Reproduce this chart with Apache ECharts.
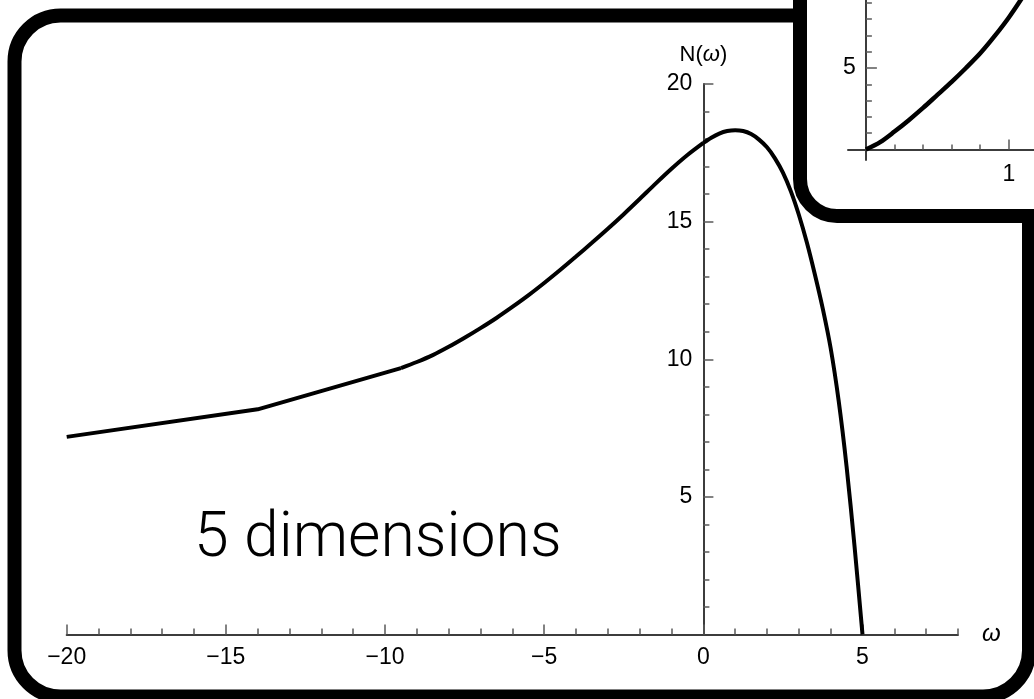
<!DOCTYPE html>
<html>
<head>
<meta charset="utf-8">
<script src="https://cdn.jsdelivr.net/npm/echarts@6/dist/echarts.min.js"></script>
<style>
  html, body { margin: 0; padding: 0; background: #fff; }
  #chart { width: 1034px; height: 699px; }
</style>
</head>
<body>
<div id="chart"></div>
<script>
// main curve: coarse samples on the left
const coarseW = [-20, -14, -9.5];
const coarseN = [7.18, 8.18, 9.68];
// main curve: fine samples, rising side
const riseW = [-9.5, -9, -8.5, -8, -7.5, -7, -6.5, -6, -5.5, -5, -4.5, -4, -3.5, -3, -2.5, -2, -1.5, -1, -0.5, 0];
const riseN = [9.68, 9.9, 10.15, 10.45, 10.78, 11.13, 11.5, 11.9, 12.32, 12.77, 13.24, 13.73, 14.23, 14.74, 15.27, 15.82, 16.38, 16.92, 17.42, 17.86];
// main curve: fine samples, peak and drop
const dropW = [0, 0.25, 0.5, 0.75, 1, 1.25, 1.5, 1.75, 2, 2.25, 2.5, 2.75, 3, 3.25, 3.5, 3.75, 4, 4.25, 4.5, 4.75, 5];
const dropN = [17.86, 18.05, 18.2, 18.29, 18.32, 18.29, 18.18, 17.98, 17.7, 17.3, 16.78, 16.1, 15.25, 14.25, 13.1, 11.85, 10.4, 8.5, 6.1, 3.2, 0];
// inset curve (zoom near the origin)
const insetW = [0, 0.1, 0.2, 0.3, 0.4, 0.5, 0.6, 0.7, 0.8, 0.9, 1.0, 1.1, 1.2];
const insetN = [0, 0.45, 1.1, 1.8, 2.55, 3.35, 4.15, 5.0, 5.9, 6.95, 8.1, 9.4, 10.8];

// tick labels
const mainXLabels = [-20, -15, -10, -5, 0, 5];
const mainYLabels = [5, 10, 15, 20];
const insetXLabels = [1];
const insetYLabels = [5];

const pairs = (xs, ys) => xs.map((x, i) => [x, ys[i]]);
const fmt = v => (v < 0 ? '\u2212' + (-v) : String(v));
const range = (a, b, s) => { const r = []; for (let v = a; v <= b + 1e-9; v += s) r.push(+v.toFixed(4)); return r; };

const axisColor = '#3c3c3c';
const tickColor = '#5a5a5a';
const labelFont = { fontSize: 23, color: '#000', fontFamily: 'Liberation Sans' };

function axis(opts) {
  return Object.assign({
    type: 'value',
    splitLine: { show: false },
    axisLine: { onZero: false, lineStyle: { color: axisColor, width: 2 } },
  }, opts);
}

const curve = (xi, yi, data, extra) => Object.assign({
  type: 'line', xAxisIndex: xi, yAxisIndex: yi, data: data,
  showSymbol: false, lineStyle: { color: '#000', width: 4 }, z: 3
}, extra || {});

const chart = echarts.init(document.getElementById('chart'));

chart.setOption({
  animation: false,
  grid: [
    { left: 66.7, right: 76, top: 84, bottom: 64.5, outerBoundsMode: 'none' },
    { left: 848, right: 0, top: 0, height: 160.1, outerBoundsMode: 'none' }
  ],
  graphic: [
    {
      type: 'rect', z: 1,
      shape: { x: 14.5, y: 15.5, width: 1014.5, height: 681, r: 46 },
      style: { fill: 'none', stroke: '#000', lineWidth: 14 }
    },
    {
      type: 'rect', z: 5,
      shape: { x: 800, y: -200, width: 400, height: 416, r: 37 },
      style: { fill: '#fff', stroke: '#000', lineWidth: 14 }
    },
    {
      type: 'text', z: 6, x: 194, y: 540,
      style: {
        text: '5 dimensions', fill: '#000', fontSize: 62.5, fontWeight: 300,
        fontFamily: 'Roboto', verticalAlign: 'middle', align: 'left'
      }
    }
  ],
  xAxis: [
    axis({
      gridIndex: 0, min: -20, max: 8, position: 'bottom',
      axisTick: { inside: true, length: 6, customValues: range(-20, 8, 1), lineStyle: { color: tickColor, width: 1.5 } },
      axisLabel: Object.assign({ margin: 12, customValues: mainXLabels, formatter: fmt }, labelFont),
      name: '{i|ω}', nameLocation: 'end', nameGap: 24,
      nameTextStyle: { rich: { i: { fontStyle: 'italic', fontSize: 24, fontFamily: 'Liberation Sans', color: '#000' } } }
    }),
    axis({
      gridIndex: 0, min: -20, max: 8, position: 'bottom',
      axisLine: { show: false, onZero: false },
      axisTick: { inside: true, length: 10, customValues: mainXLabels, lineStyle: { color: tickColor, width: 1.5 } },
      axisLabel: { show: false }
    }),
    axis({
      gridIndex: 1, min: -0.125, max: 1.176, position: 'bottom', offset: -10.6, z: 10,
      axisTick: { inside: true, length: 5, customValues: [0.2, 0.4, 0.6, 0.8], lineStyle: { color: tickColor, width: 1.5 } },
      axisLabel: Object.assign({ margin: 14, customValues: insetXLabels, formatter: fmt }, labelFont)
    }),
    axis({
      gridIndex: 1, min: -0.125, max: 1.176, position: 'bottom', offset: -10.6, z: 10,
      axisLine: { show: false, onZero: false },
      axisTick: { inside: true, length: 10, customValues: insetXLabels, lineStyle: { color: tickColor, width: 1.5 } },
      axisLabel: { show: false }
    })
  ],
  yAxis: [
    axis({
      gridIndex: 0, min: 0, max: 20, position: 'left', offset: -636.7,
      axisTick: { inside: true, length: 6, customValues: range(1, 20, 1), lineStyle: { color: tickColor, width: 1.5 } },
      axisLabel: Object.assign({ margin: 11, customValues: mainYLabels, formatter: fmt }, labelFont),
      name: '{n|N(}{i|ω}{n|)}', nameLocation: 'end', nameGap: 18,
      nameTextStyle: {
        rich: {
          n: { fontSize: 22, fontFamily: 'Liberation Sans', color: '#000' },
          i: { fontStyle: 'italic', fontSize: 22, fontFamily: 'Liberation Sans', color: '#000' }
        }
      }
    }),
    axis({
      gridIndex: 0, min: 0, max: 20, position: 'left', offset: -636.7,
      axisLine: { show: false, onZero: false },
      axisTick: { inside: true, length: 10, customValues: mainYLabels, lineStyle: { color: tickColor, width: 1.5 } },
      axisLabel: { show: false }
    }),
    axis({
      gridIndex: 1, min: -0.65, max: 9.17, position: 'left', offset: -17.9, z: 10,
      axisTick: { inside: true, length: 6, customValues: range(1, 9, 1), lineStyle: { color: tickColor, width: 1.5 } },
      axisLabel: Object.assign({ margin: 10, customValues: insetYLabels, formatter: fmt }, labelFont)
    }),
    axis({
      gridIndex: 1, min: -0.65, max: 9.17, position: 'left', offset: -17.9, z: 10,
      axisLine: { show: false, onZero: false },
      axisTick: { inside: true, length: 11, customValues: insetYLabels, lineStyle: { color: tickColor, width: 1.5 } },
      axisLabel: { show: false }
    })
  ],
  series: [
    curve(0, 0, pairs(coarseW, coarseN)),
    curve(0, 0, pairs(riseW, riseN), { smooth: 0.3 }),
    curve(0, 0, pairs(dropW, dropN), { smooth: 0.3 }),
    curve(2, 2, pairs(insetW, insetN), { smooth: 0.3, lineStyle: { color: '#000', width: 4.5 }, z: 10 })
  ]
});
</script>
</body>
</html>
